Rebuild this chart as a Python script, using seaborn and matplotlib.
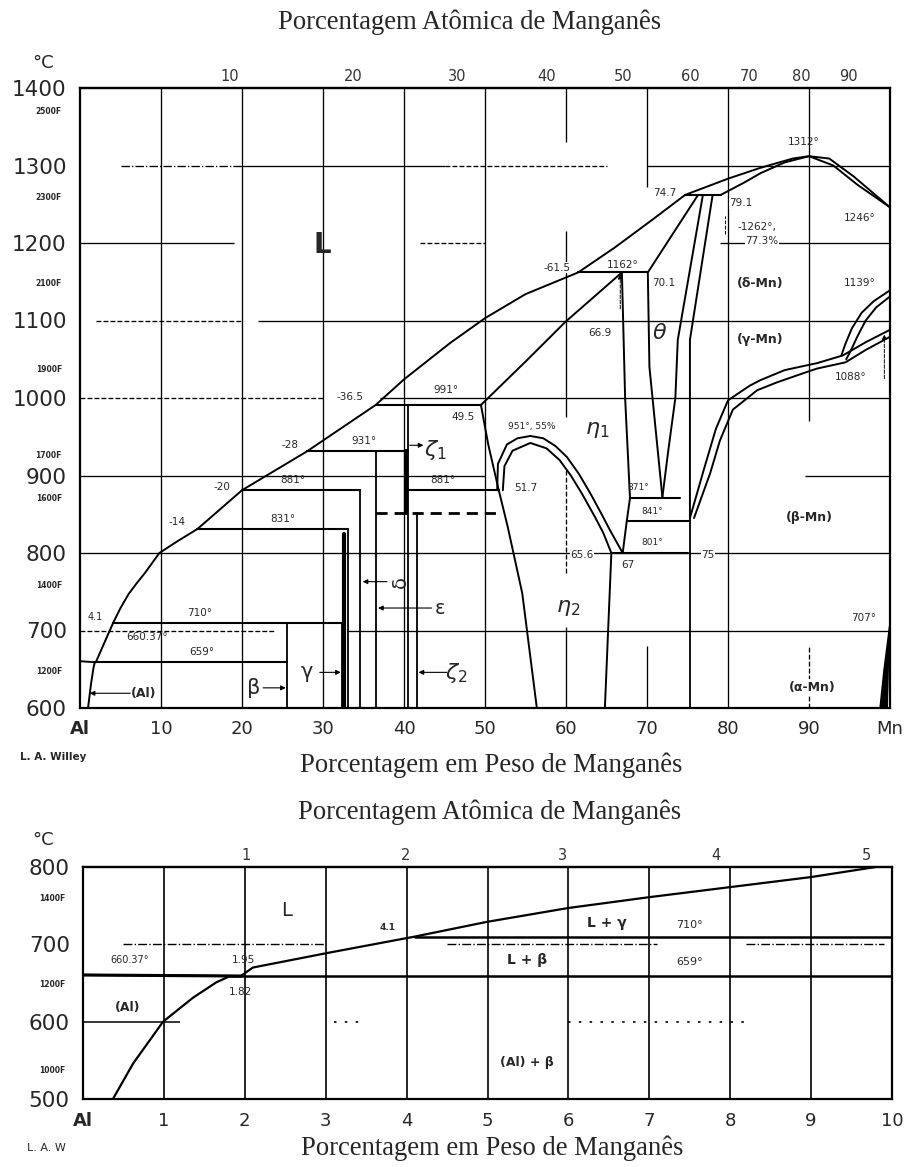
import numpy as np
import pandas as pd
import matplotlib
matplotlib.use("Agg")
import matplotlib.pyplot as plt
import seaborn as sns

# ---------------- Al-Mn equilibrium data (wt% Mn, deg C) ----------------
liquidus = [(0, 660.37), (1.95, 659), (3.0, 684), (4.1, 710), (5.0, 729), (6.0, 747),
            (7.0, 761), (8.0, 774), (9.8, 800), (12.0, 815), (14.5, 831), (20, 881), (28, 931),
            (36.5, 991), (40, 1024), (45.7, 1071), (50, 1103), (55, 1134), (61.5, 1162),
            (66.0, 1194), (70.4, 1228), (74.7, 1262), (80, 1283), (84, 1297), (88, 1309),
            (90, 1312), (92.5, 1309), (95.5, 1286), (100, 1246)]
delta_solidus = [(79.1, 1262), (82, 1278), (84, 1290), (87, 1304), (90, 1312),
                 (93, 1300), (96, 1275), (100, 1246)]
al_solvus = [(0.37, 500), (0.62, 546), (0.99, 600), (1.36, 631), (1.65, 651), (1.82, 659)]

iso_T = [659, 710, 831, 881, 931, 991, 1162, 1262]
iso_x0 = [1.82, 4.1, 14.5, 20, 28, 36.5, 61.5, 74.7]
iso_x1 = [25.5, 32.3, 33.1, 34.6, 40.5, 49.5, 70.1, 79.1]
iso2_T = [881, 871, 841, 800]
iso2_x0 = [40.5, 67.9, 67.5, 65.6]
iso2_x1 = [51.7, 74.1, 75.3, 75.0]
iso_dash_T = 851
iso_dash_x = (36.6, 52.0)

# compound phase boundaries (vertical lines: composition, top temperature)
comp_x = [25.5, 32.3, 33.1, 34.6, 36.6, 40.5, 41.6, 75.3]
comp_top = [710, 710, 831, 881, 931, 991, 851, 841]

eta1_left_upper = [(49.5, 991), (55.2, 1049), (59.9, 1098), (66.9, 1162)]
eta1_left_lower = [(49.5, 991), (50.4, 940), (51.7, 881)]
eta1_right = [(66.9, 1162), (67.3, 1000), (67.9, 871), (67.5, 841), (67.0, 800)]
dome_outer = [(51.5, 881), (51.6, 915), (52.7, 940), (54.0, 948), (55.6, 951), (57.2, 948),
              (58.7, 938), (60.1, 924), (61.6, 902), (63.0, 877), (64.3, 852), (65.4, 830), (67.0, 800)]
dome_inner = [(52.2, 881), (52.4, 912), (53.4, 932), (55.6, 942), (57.6, 935), (59.2, 920),
              (60.6, 900), (62.0, 876), (63.6, 846), (64.6, 826), (65.6, 800)]
eta2_left = [(51.7, 881), (52.8, 834), (54.6, 748), (56.4, 600)]
eta2_right = [(65.6, 800), (65.2, 700), (64.8, 600)]
theta_left = [(76.3, 1262), (70.1, 1162), (70.3, 1040), (71.9, 872)]
theta_right = [(76.9, 1262), (73.8, 1075), (73.5, 1000), (72.6, 930), (71.9, 872)]
theta_outer = [(78.1, 1262), (75.3, 1075), (75.3, 841)]
gamma_beta_upper = [(75.3, 845), (77.0, 907), (78.5, 960), (80.0, 997), (82.7, 1016),
                    (84.0, 1023), (87.0, 1036), (91.0, 1045), (94.2, 1055), (97.0, 1072), (100, 1088)]
gamma_beta_lower = [(75.8, 845), (77.8, 903), (79.0, 945), (80.6, 985), (83.6, 1010),
                    (86.0, 1020), (89.3, 1032), (91.0, 1038), (94.5, 1046), (97.0, 1062), (100, 1079)]
delta_gamma_a = [(94.0, 1055), (94.5, 1070), (95.3, 1090), (96.5, 1110), (98.0, 1125), (100, 1139)]
delta_gamma_b = [(94.6, 1050), (95.2, 1062), (96.0, 1080), (97.0, 1100), (98.3, 1117), (100, 1131)]
alpha_mn_a = [(100, 707), (99.3, 650), (98.8, 600)]
alpha_mn_b = [(100, 707), (99.7, 650), (99.6, 600)]

# low-Mn detail (bottom chart)
low_liquidus = [(0, 660.37), (1.95, 659), (2.1, 670), (3.03, 689), (4.1, 710), (4.99, 729),
                (6.0, 747), (7.0, 761), (8.0, 774), (9.0, 787), (9.8, 800)]
low_iso_T = [659, 710]
low_iso_x0 = [1.82, 4.1]
low_iso_x1 = [10, 10]

top_wt_ticks = ["Al", "10", "20", "30", "40", "50", "60", "70", "80", "90", "Mn"]
low_wt_ticks = ["Al", "1", "2", "3", "4", "5", "6", "7", "8", "9", "10"]
top_at_ticks = [10, 20, 30, 40, 50, 60, 70, 80, 90]
low_at_ticks = [1, 2, 3, 4, 5]
top_f_ticks = list(range(1200, 2501, 100))
top_f_labels = [1200, 1400, 1600, 1700, 1900, 2100, 2300, 2500]
low_f_ticks = [1000, 1100, 1200, 1300, 1400]
low_f_labels = [1000, 1200, 1400]

# ---------------- helpers ----------------
M_MN, M_AL = 54.94, 26.98


def wt_to_at(w):
    w = np.asarray(w, float)
    with np.errstate(divide="ignore", invalid="ignore"):
        m = w / M_MN
        a = (100 - w) / M_AL
        return 100 * m / (m + a)


def at_to_wt(a):
    a = np.asarray(a, float)
    with np.errstate(divide="ignore", invalid="ignore"):
        m = a * M_MN
        b = (100 - a) * M_AL
        return 100 * m / (m + b)


def f_to_c(f):
    return (np.asarray(f, float) - 32) * 5 / 9


def draw_curves(ax, curves, lw=1.3, ls="-", z=3):
    frames = []
    for i, c in enumerate(curves):
        arr = np.asarray(c, float)
        frames.append(pd.DataFrame({"wt": arr[:, 0], "T": arr[:, 1], "curve": i}))
    df = pd.concat(frames, ignore_index=True)
    sns.lineplot(data=df, x="wt", y="T", units="curve", estimator=None, sort=False,
                 color="black", linewidth=lw, linestyle=ls, ax=ax, legend=False, zorder=z)


def hseg(ax, y, x0, x1, ls="-", lw=0.95):
    ax.plot([x0, x1], [y, y], color="black", lw=lw, ls=ls, zorder=1, solid_capstyle="butt")


def vseg(ax, x, y0, y1, ls="-", lw=0.95):
    ax.plot([x, x], [y0, y1], color="black", lw=lw, ls=ls, zorder=1, solid_capstyle="butt")


def arrow(ax, tail, head, lw=0.8, ls="-"):
    ax.annotate("", xy=head, xytext=tail,
                arrowprops=dict(arrowstyle="-|>", color="black", lw=lw, ls=ls,
                                mutation_scale=7, shrinkA=0, shrinkB=0))


# ---------------- figure ----------------
sns.set_theme(style="white")
plt.rcParams["font.family"] = ["DejaVu Sans"]
plt.rcParams["mathtext.fontset"] = "dejavusans"

W, H = 910, 1167
fig = plt.figure(figsize=(W / 100, H / 100), dpi=100)
fig.patch.set_facecolor("white")
ax = fig.add_axes([80 / W, 1 - 708 / H, 810 / W, 620 / H])
bx = fig.add_axes([83 / W, 1 - 1099 / H, 809 / W, 232 / H])
serif = "Liberation Serif"

# ======================= main diagram =======================
# broken grid lines of the original drawing
for x in [10, 20, 30, 40, 50, 80]:
    vseg(ax, x, 600, 1400)
for (y0, y1, ls) in [(1330, 1400, "-"), (975, 1215, "-"), (774, 907, "--"), (600, 705, "-")]:
    vseg(ax, 60, y0, y1, ls)
for (y0, y1, ls) in [(1272, 1400, "-"), (600, 680, "-")]:
    vseg(ax, 70, y0, y1, ls)
for (y0, y1, ls) in [(970, 1400, "-"), (600, 680, "--")]:
    vseg(ax, 90, y0, y1, ls)
hsegs = {1300: [(5, 20, "-."), (20, 45, "-"), (45, 65, "--"), (70, 100, "-")],
         1200: [(0, 19, "-"), (42, 50, "--"), (79, 100, "-")],
         1100: [(2, 20, "--"), (22, 100, "-")],
         1000: [(0, 30, "--"), (37, 100, "-")],
         900: [(0, 50, "-"), (89.5, 100, "-")],
         800: [(0, 100, "-")],
         700: [(0, 24, "--"), (33, 100, "-")]}
for y, segs in hsegs.items():
    for (x0, x1, ls) in segs:
        hseg(ax, y, x0, x1, ls)

# phase boundaries
draw_curves(ax, [liquidus, delta_solidus, al_solvus, eta1_left_upper, eta1_left_lower,
                 eta1_right, dome_outer, dome_inner, eta2_left, eta2_right,
                 theta_left, theta_right, theta_outer, gamma_beta_upper, gamma_beta_lower,
                 delta_gamma_a, delta_gamma_b, alpha_mn_a, alpha_mn_b], lw=1.4)
iso_curves = [[(a, t), (b, t)] for t, a, b in zip(iso_T, iso_x0, iso_x1)]
iso_curves += [[(a, t), (b, t)] for t, a, b in zip(iso2_T, iso2_x0, iso2_x1)]
draw_curves(ax, iso_curves, lw=1.5)
draw_curves(ax, [[(iso_dash_x[0], iso_dash_T), (iso_dash_x[1], iso_dash_T)]], lw=2.0, ls=(0, (4, 2.5)))
comp_curves = [[(x, 600), (x, t)] for x, t in zip(comp_x, comp_top)]
draw_curves(ax, comp_curves, lw=1.3)
draw_curves(ax, [[(32.6, 600), (32.6, 825)], [(40.3, 851), (40.3, 931)]], lw=3.0)
ax.fill_betweenx([600, 650, 707], [98.8, 99.3, 100], [99.6, 99.7, 100], color="black", zorder=3)

# temperature / composition labels
small = dict(fontsize=7.5, ha="center", va="center", zorder=6)
ax.text(8.3, 692, f"{liquidus[0][1]:g}°", **small)
ax.text(1.9, 717, f"{low_liquidus[4][0]:g}", ha="center", va="center", fontsize=7, zorder=6)
for t, xx in [(710, 14.8), (659, 15.0), (831, 25.1), (881, 26.3), (931, 35.0)]:
    ax.text(xx, t + 13, f"{t}°", **small)
ax.text(45.2, 1010, "991°", **small)
ax.text(44.8, 894, "881°", **small)
ax.text(67.0, 1172, "1162°", **small)
ax.text(68.9, 884, "871°", fontsize=6.5, ha="center", va="center", zorder=6)
ax.text(70.7, 853, "841°", fontsize=6.5, ha="center", va="center", zorder=6)
ax.text(70.6, 814, "801°", fontsize=6.5, ha="center", va="center", zorder=6)
for txt, xx, yy in [("-14", 12.0, 840), ("-20", 17.5, 885), ("-28", 25.9, 939),
                    ("-36.5", 33.3, 1001), ("49.5", 47.3, 976), ("-61.5", 58.9, 1168),
                    ("70.1", 72.0, 1148), ("74.7", 72.2, 1264), ("79.1", 81.6, 1251),
                    ("66.9", 64.2, 1084), ("65.6", 62.0, 797), ("67", 67.6, 785),
                    ("75", 77.5, 797), ("51.7", 55.0, 884)]:
    ax.text(xx, yy, txt, fontsize=7.5, ha="center", va="center", zorder=6,
            bbox=dict(boxstyle="square,pad=0.05", fc="white", ec="none"))
ax.text(55.8, 963, "951°, 55%", fontsize=6.5, ha="center", va="center", zorder=6)
ax.text(83.6, 1221, "-1262°,", fontsize=7.5, ha="center", va="center", zorder=6)
ax.text(84.2, 1202, "77.3%", fontsize=7.5, ha="center", va="center", zorder=6,
        bbox=dict(boxstyle="square,pad=0.05", fc="white", ec="none"))
ax.text(89.3, 1330, "1312°", **small)
ax.text(96.3, 1232, "1246°", **small)
ax.text(96.3, 1148, "1139°", **small)
ax.text(95.2, 1027, "1088°", **small)
ax.text(96.7, 716, "707°", **small)
arrow(ax, (66.7, 1115), (66.7, 1160), lw=0.7, ls="--")
arrow(ax, (99.3, 1025), (99.3, 1082), lw=0.7, ls="--")
vseg(ax, 79.6, 1212, 1235, ls="--", lw=0.7)

# phase labels
ax.text(29.9, 1197, "L", fontsize=20, fontweight="bold", ha="center", va="center", zorder=6)
big = dict(fontsize=16, ha="center", va="center", zorder=6)
ax.text(43.8, 933, r"$\zeta_1$", **big)
ax.text(46.5, 645, r"$\zeta_2$", **big)
ax.text(63.8, 959, r"$\eta_1$", **big)
ax.text(60.3, 729, r"$\eta_2$", **big, bbox=dict(boxstyle="square,pad=0.1", fc="white", ec="none"))
ax.text(71.6, 1084, r"$\theta$", **big)
ax.text(39.5, 763, "δ", fontsize=14, rotation=90, ha="center", va="center", zorder=6)
ax.text(44.4, 729, "ε", fontsize=14, ha="center", va="center", zorder=6)
ax.text(28.0, 646, "γ", fontsize=15, ha="center", va="center", zorder=6)
ax.text(21.4, 626, "β", fontsize=15, ha="center", va="center", zorder=6)
ax.text(7.8, 619, "(Al)", fontsize=9, fontweight="bold", ha="center", va="center", zorder=6)
arrow(ax, (40.7, 939), (42.4, 939))
arrow(ax, (37.9, 763), (34.9, 763))
arrow(ax, (43.4, 729), (36.8, 729))
arrow(ax, (29.6, 646), (32.2, 646))
arrow(ax, (22.6, 626), (25.4, 626))
arrow(ax, (45.3, 646), (41.8, 646))
arrow(ax, (6.2, 619), (1.2, 619))
mn = dict(fontsize=9, fontweight="bold", ha="center", va="center", zorder=6,
          bbox=dict(boxstyle="square,pad=0.1", fc="white", ec="none"))
ax.text(84.0, 1148, "(δ-Mn)", **mn)
ax.text(84.0, 1075, "(γ-Mn)", **mn)
ax.text(90.1, 846, "(β-Mn)", **mn)
ax.text(90.4, 627, "(α-Mn)", **mn)

# axes cosmetics
ax.set_xlim(0, 100)
ax.set_ylim(600, 1400)
ax.set_xlabel("")
ax.set_ylabel("")
ax.set_xticks(range(0, 101, 10), top_wt_ticks)
ax.set_yticks(range(600, 1401, 100))
ax.set_yticks(f_to_c(top_f_ticks), [f"{f}F" if f in top_f_labels else "" for f in top_f_ticks], minor=True)
ax.tick_params(axis="x", length=0, pad=9, labelsize=13)
ax.tick_params(axis="y", which="major", length=0, pad=9.5, labelsize=15.5)
ax.tick_params(axis="y", which="minor", length=4, width=0.8, pad=9, labelsize=5.5, color="black")
for lab in ax.get_yticklabels(minor=True):
    lab.set_fontweight("bold")
for lab in ax.get_xticklabels():
    if lab.get_text() in ("Al",):
        lab.set_fontweight("bold")
for s in ax.spines.values():
    s.set_visible(True)
    s.set_color("black")
    s.set_linewidth(1.6)
top = ax.secondary_xaxis("top", functions=(wt_to_at, at_to_wt))
top.set_xticks(top_at_ticks)
top.tick_params(length=0, pad=3, labelsize=10.5, colors="#333333")
top.spines["top"].set_linewidth(1.6)

# ======================= low-Mn detail =======================
for x in range(1, 10):
    vseg(bx, x, 500, 800, lw=1.2)
for (x0, x1) in [(0.5, 3.0), (4.5, 7.1), (8.2, 9.9)]:
    hseg(bx, 700, x0, x1, ls="-.", lw=1.0)
hseg(bx, 600, 0, 1.2, lw=1.1)
for (x0, x1) in [(3.1, 3.5), (6.0, 8.2)]:
    hseg(bx, 600, x0, x1, ls=(0, (1.5, 5)), lw=1.2)

draw_curves(bx, [al_solvus, low_liquidus], lw=1.6)
draw_curves(bx, [[(a, t), (b, t)] for t, a, b in zip(low_iso_T, low_iso_x0, low_iso_x1)], lw=1.8)
draw_curves(bx, [[(0, low_liquidus[0][1]), (low_liquidus[1][0], low_liquidus[1][1])]], lw=2.2)

bx.text(2.52, 744, "L", fontsize=14, ha="center", va="center")
bx.text(3.77, 722, f"{low_liquidus[4][0]:g}", fontsize=6.5, fontweight="bold", ha="center", va="center")
bx.text(0.58, 680, f"{low_liquidus[0][1]:g}°", fontsize=7, ha="center", va="center")
bx.text(1.98, 680, f"{low_liquidus[1][0]:g}", fontsize=7.5, ha="center", va="center")
bx.text(1.94, 639, f"{al_solvus[-1][0]:g}", fontsize=7.5, ha="center", va="center")
bx.text(0.55, 618, "(Al)", fontsize=9, fontweight="bold", ha="center", va="center")
bx.text(6.48, 728, "L + γ", fontsize=10, fontweight="bold", ha="center", va="center")
bx.text(7.5, 725, f"{low_iso_T[1]}°", fontsize=8, ha="center", va="center")
bx.text(5.49, 680, "L + β", fontsize=10, fontweight="bold", ha="center", va="center")
bx.text(7.5, 677, f"{low_iso_T[0]}°", fontsize=8, ha="center", va="center")
bx.text(5.49, 547, "(Al) + β", fontsize=9, fontweight="bold", ha="center", va="center")

bx.set_xlim(0, 10)
bx.set_ylim(500, 800)
bx.set_xlabel("")
bx.set_ylabel("")
bx.set_xticks(range(0, 11), low_wt_ticks)
bx.set_yticks(range(500, 801, 100))
bx.set_yticks(f_to_c(low_f_ticks), [f"{f}F" if f in low_f_labels else "" for f in low_f_ticks], minor=True)
bx.tick_params(axis="x", length=0, pad=9, labelsize=13)
bx.tick_params(axis="y", which="major", length=0, pad=9.5, labelsize=15.5)
bx.tick_params(axis="y", which="minor", length=4, width=0.8, pad=9, labelsize=5.5, color="black")
for lab in bx.get_yticklabels(minor=True):
    lab.set_fontweight("bold")
bx.get_xticklabels()[0].set_fontweight("bold")
for s in bx.spines.values():
    s.set_visible(True)
    s.set_color("black")
    s.set_linewidth(1.6)
top2 = bx.secondary_xaxis("top", functions=(wt_to_at, at_to_wt))
top2.set_xticks(low_at_ticks)
top2.tick_params(length=0, pad=3, labelsize=10.5, colors="#333333")
top2.spines["top"].set_linewidth(1.6)

# ======================= figure texts =======================
for (cx, cy, txt) in [(470, 22, "Porcentagem Atômica de Manganês"),
                      (491, 765, "Porcentagem em Peso de Manganês"),
                      (490, 812, "Porcentagem Atômica de Manganês"),
                      (492, 1148, "Porcentagem em Peso de Manganês")]:
    fig.text(cx / W, 1 - cy / H, txt, family=serif, fontsize=19.2, ha="center", va="center")
fig.text(43 / W, 1 - 63 / H, "°C", fontsize=13, ha="center", va="center")
fig.text(43 / W, 1 - 840 / H, "°C", fontsize=13, ha="center", va="center")
fig.text(20 / W, 1 - 757 / H, "L. A. Willey", fontsize=7.5, fontweight="bold", ha="left", va="center")
fig.text(27 / W, 1 - 1148 / H, "L. A. W", fontsize=8, ha="left", va="center")

fig.savefig("out.png", dpi=100, facecolor="white")
